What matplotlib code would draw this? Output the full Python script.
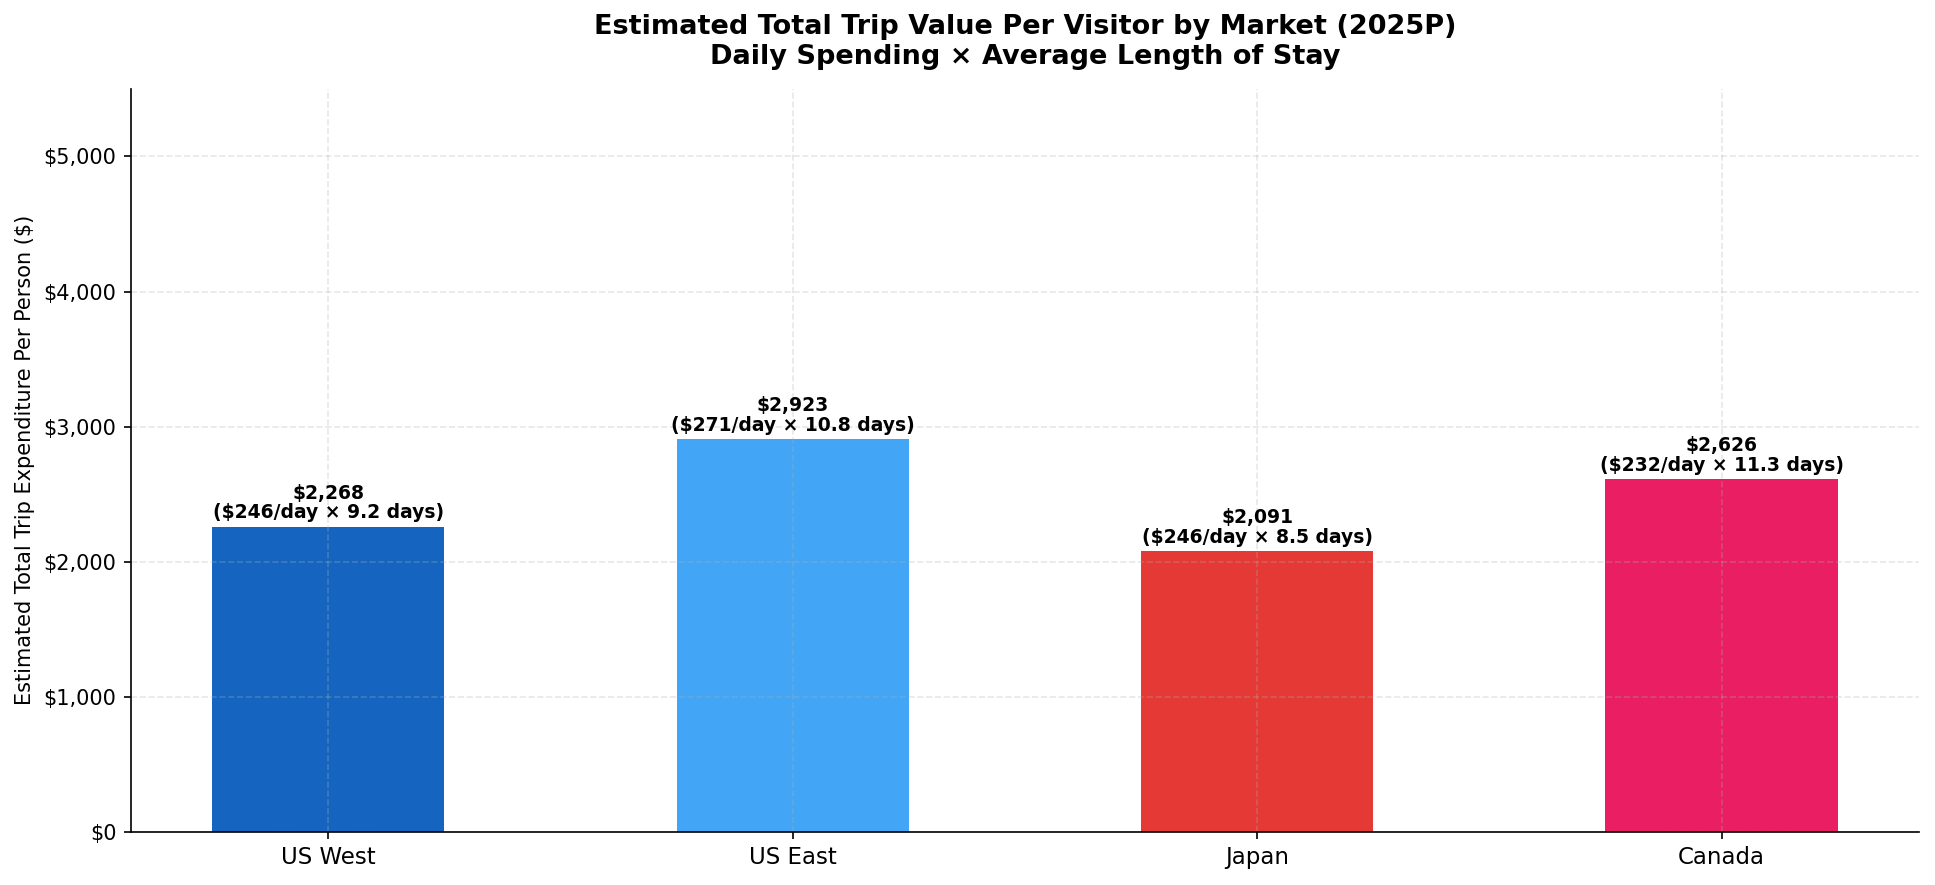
import numpy as np
import matplotlib
matplotlib.use("Agg")
import matplotlib.pyplot as plt
from matplotlib.ticker import FuncFormatter

# ── data ──────────────────────────────────
markets = ["US West", "US East", "Japan", "Canada"]
trip_values = [2259, 2909, 2076, 2613]       # bar heights
value_labels = ["$2,268", "$2,923", "$2,091", "$2,626"]
daily_spend = [246, 271, 246, 232]
stay_days = [9.2, 10.8, 8.5, 11.3]
colors = ["#1565C0", "#42A5F5", "#E53935", "#E91E63"]

# ── plot ──────────────────────────────────
fig, ax = plt.subplots(figsize=(12.9, 5.9), dpi=150)
fig.subplots_adjust(left=0.0677, right=0.9917, bottom=0.0602, top=0.8995)

x = np.arange(len(markets))
bars = ax.bar(x, trip_values, width=0.5, color=colors)

for bar, lab, d, s in zip(bars, value_labels, daily_spend, stay_days):
    ax.annotate(f"{lab}\n(${d}/day × {s} days)",
                xy=(bar.get_x() + bar.get_width() / 2, bar.get_height()),
                xytext=(0, 2), textcoords="offset points",
                ha="center", va="bottom", fontsize=9, fontweight="bold",
                linespacing=1.05)

ax.set_xticks(x)
ax.set_xticklabels(markets, fontsize=11)
ax.set_ylim(0, 5500)
ax.yaxis.set_major_formatter(FuncFormatter(lambda v, p: f"${v:,.0f}"))
ax.tick_params(axis="y", labelsize=10)
ax.set_ylabel("Estimated Total Trip Expenditure Per Person ($)", fontsize=10)
ax.set_title("Estimated Total Trip Value Per Visitor by Market (2025P)\n"
             "Daily Spending × Average Length of Stay",
             fontsize=13, fontweight="bold", pad=12)
ax.grid(True, linestyle="--", alpha=0.3)
ax.spines["top"].set_visible(False)
ax.spines["right"].set_visible(False)

plt.savefig("out.png", dpi=150)
